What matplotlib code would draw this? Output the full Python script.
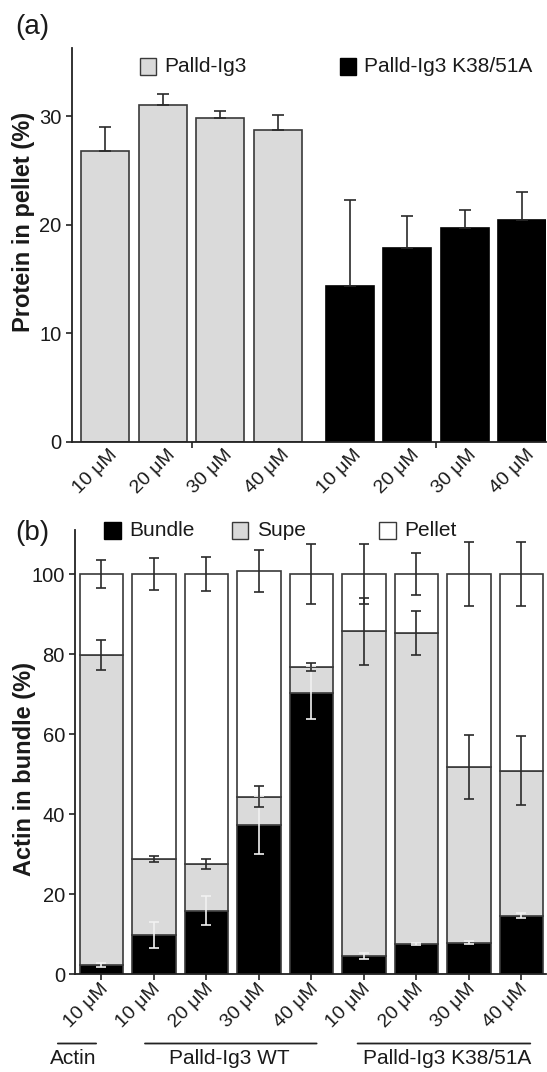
import matplotlib
matplotlib.use('Agg')
import matplotlib.pyplot as plt
from matplotlib.patches import Rectangle
import numpy as np

plt.rcParams['font.family'] = ['Liberation Sans', 'DejaVu Sans']

# ---------------- data: panel (a) ----------------
conc_labels = ['10 μM', '20 μM', '30 μM', '40 μM']
wt_pellet = [26.8, 31.0, 29.8, 28.7]
wt_err = [2.2, 1.1, 0.7, 1.4]
mut_pellet = [14.4, 17.9, 19.7, 20.4]
mut_err = [7.9, 2.9, 1.7, 2.6]
a_legend = ['Palld-Ig3', 'Palld-Ig3 K38/51A']

# ---------------- data: panel (b) ----------------
b_labels = ['10 μM', '10 μM', '20 μM', '30 μM', '40 μM',
            '10 μM', '20 μM', '30 μM', '40 μM']
bundle = [2.3, 9.8, 15.9, 37.3, 70.4, 4.6, 7.6, 7.9, 14.6]
bundle_err = [0.5, 3.3, 3.7, 7.3, 6.7, 0.8, 0.3, 0.3, 0.6]
supe = [77.4, 19.0, 11.6, 7.1, 6.3, 81.1, 77.6, 43.8, 36.3]
supe_err = [3.8, 0.8, 1.2, 2.7, 1.0, 8.4, 5.5, 8.0, 8.6]
pellet = [20.3, 71.2, 72.5, 56.3, 23.3, 14.3, 14.8, 48.3, 49.1]
pellet_err = [3.4, 4.1, 4.2, 5.3, 7.6, 7.6, 5.3, 8.0, 8.0]
b_legend = ['Bundle', 'Supe', 'Pellet']
groups = ['Actin', 'Palld-Ig3 WT', 'Palld-Ig3 K38/51A']

# ---------------- style ----------------
W, H = 547, 1072
GRAY = '#dadada'
EDGE = '#3a3a3a'
ERR = '#2a2a2a'
TXT = '#1a1a1a'
TICK_FS = 14.5
XLAB_FS = 14
LEG_FS = 15

fig = plt.figure(figsize=(W / 100, H / 100), dpi=100)


def fx(x):
    return x / W


def fy(y):
    return 1 - y / H


def style_axes(ax):
    for s in ['top', 'right']:
        ax.spines[s].set_visible(False)
    for s in ['left', 'bottom']:
        ax.spines[s].set_color('#222222')
        ax.spines[s].set_linewidth(1.3)
    ax.tick_params(which='major', length=4, width=1.2, color='#222222',
                   labelsize=TICK_FS, labelcolor=TXT)


def rotate_labels(labels):
    for lab in labels:
        lab.set_rotation(45)
        lab.set_rotation_mode('anchor')
        lab.set_ha('right')
        lab.set_va('top')


# ---------------- panel (a) ----------------
axa = fig.add_axes([fx(71.7), fy(441.7), fx(546 - 71.7), (441.7 - 48) / H])
style_axes(axa)
n = len(conc_labels)
xw = np.arange(n, dtype=float)
xm = np.arange(n, dtype=float) + n + 0.25
bw = 0.835
axa.bar(xw, wt_pellet, width=bw, color=GRAY, edgecolor=EDGE, linewidth=1.2, zorder=2)
axa.bar(xm, mut_pellet, width=bw, color='black', edgecolor='black', linewidth=1.2, zorder=2)
axa.errorbar(xw, wt_pellet, yerr=[np.zeros(n), wt_err], fmt='none', ecolor=ERR,
             elinewidth=1.2, capsize=4.3, capthick=1.2, zorder=3)
axa.errorbar(xm, mut_pellet, yerr=[np.zeros(n), mut_err], fmt='none', ecolor=ERR,
             elinewidth=1.2, capsize=4.3, capthick=1.2, zorder=3)
axa.set_ylim(0, 36.3)
axa.set_xlim(-0.584, 7.665)
axa.set_yticks([0, 10, 20, 30])
axa.set_xticks([xw.mean(), xm.mean()], ['', ''])
axa.set_xticks(np.concatenate([xw, xm]) + 0.06, conc_labels + conc_labels, minor=True)
axa.tick_params(axis='x', which='minor', length=0, pad=3.5, labelsize=XLAB_FS,
                labelcolor=TXT)
rotate_labels(axa.get_xticklabels(minor=True))

# legend (a)
fig.add_artist(Rectangle((fx(139.5), fy(75)), fx(16), 17 / H, transform=fig.transFigure,
                         facecolor=GRAY, edgecolor=EDGE, linewidth=1.0))
fig.text(fx(164), fy(67), a_legend[0], fontsize=LEG_FS, va='center', ha='left', color=TXT)
fig.add_artist(Rectangle((fx(340), fy(75)), fx(16), 17 / H, transform=fig.transFigure,
                         facecolor='black', edgecolor='black', linewidth=1.0))
fig.text(fx(364), fy(67), a_legend[1], fontsize=LEG_FS, va='center', ha='left', color=TXT)

fig.text(fx(32), fy(27), '(a)', fontsize=20, ha='center', va='center', color=TXT)
fig.text(fx(23.5), fy(222), 'Protein in pellet (%)', fontsize=17, fontweight='bold',
         rotation=90, ha='center', va='center', color=TXT)

# ---------------- panel (b) ----------------
axb = fig.add_axes([fx(75.3), fy(974.3), fx(546 - 75.3), (974.3 - 530) / H])
style_axes(axb)
m = len(b_labels)
xb = np.arange(m, dtype=float)
bwb = 0.83
bundle = np.array(bundle)
supe = np.array(supe)
pellet = np.array(pellet)
axb.bar(xb, bundle, width=bwb, color='black', edgecolor=EDGE, linewidth=1.2, zorder=2)
axb.bar(xb, supe, bottom=bundle, width=bwb, color=GRAY, edgecolor=EDGE, linewidth=1.2, zorder=2)
axb.bar(xb, pellet, bottom=bundle + supe, width=bwb, color='white', edgecolor=EDGE,
        linewidth=1.2, zorder=2)
axb.errorbar(xb, bundle, yerr=bundle_err, fmt='none', ecolor='#f2f2f2',
             elinewidth=1.2, capsize=3.8, capthick=1.2, zorder=3)
axb.errorbar(xb, bundle + supe, yerr=supe_err, fmt='none', ecolor=ERR,
             elinewidth=1.2, capsize=3.8, capthick=1.2, zorder=4)
axb.errorbar(xb, bundle + supe + pellet, yerr=pellet_err, fmt='none', ecolor=ERR,
             elinewidth=1.2, capsize=3.8, capthick=1.2, zorder=4)
axb.set_ylim(0, 111)
axb.set_xlim(-0.497, 8.469)
axb.set_yticks([0, 20, 40, 60, 80, 100])
axb.set_xticks(xb, [''] * m)
axb.set_xticks(xb - 0.04, b_labels, minor=True)
axb.tick_params(axis='x', which='minor', length=0, pad=4.5, labelsize=XLAB_FS,
                labelcolor=TXT)
rotate_labels(axb.get_xticklabels(minor=True))

# legend (b)
leg_sq_x = [104, 231.5, 379]
leg_tx_x = [129, 257, 404]
leg_cols = ['black', GRAY, 'white']
for sx, tx, col, lab in zip(leg_sq_x, leg_tx_x, leg_cols, b_legend):
    fig.add_artist(Rectangle((fx(sx), fy(538.5)), fx(16.5), 16.5 / H,
                             transform=fig.transFigure, facecolor=col,
                             edgecolor='black' if col == 'black' else EDGE, linewidth=1.0))
    fig.text(fx(tx), fy(531), lab, fontsize=LEG_FS, va='center', ha='left', color=TXT)

fig.text(fx(32), fy(533), '(b)', fontsize=20, ha='center', va='center', color=TXT)
fig.text(fx(24.5), fy(769), 'Actin in bundle (%)', fontsize=17, fontweight='bold',
         rotation=90, ha='center', va='center', color=TXT)

# group labels under (b)
group_spans = [(-0.83, -0.10), (0.83, 4.10), (4.88, 8.17)]
group_text_x = [-0.54, 2.43, 6.59]
for (x0, x1), tx, g in zip(group_spans, group_text_x, groups):
    axb.annotate('', xy=(x0, fy(1043.5)), xytext=(x1, fy(1043.5)),
                 xycoords=('data', 'figure fraction'),
                 textcoords=('data', 'figure fraction'),
                 arrowprops=dict(arrowstyle='-', color='#222222', lw=1.3,
                                 shrinkA=0, shrinkB=0),
                 annotation_clip=False)
    axb.annotate(g, xy=(tx, fy(1059)), xycoords=('data', 'figure fraction'),
                 ha='center', va='center', fontsize=LEG_FS, color=TXT,
                 annotation_clip=False)

fig.savefig('out.png', dpi=100)
